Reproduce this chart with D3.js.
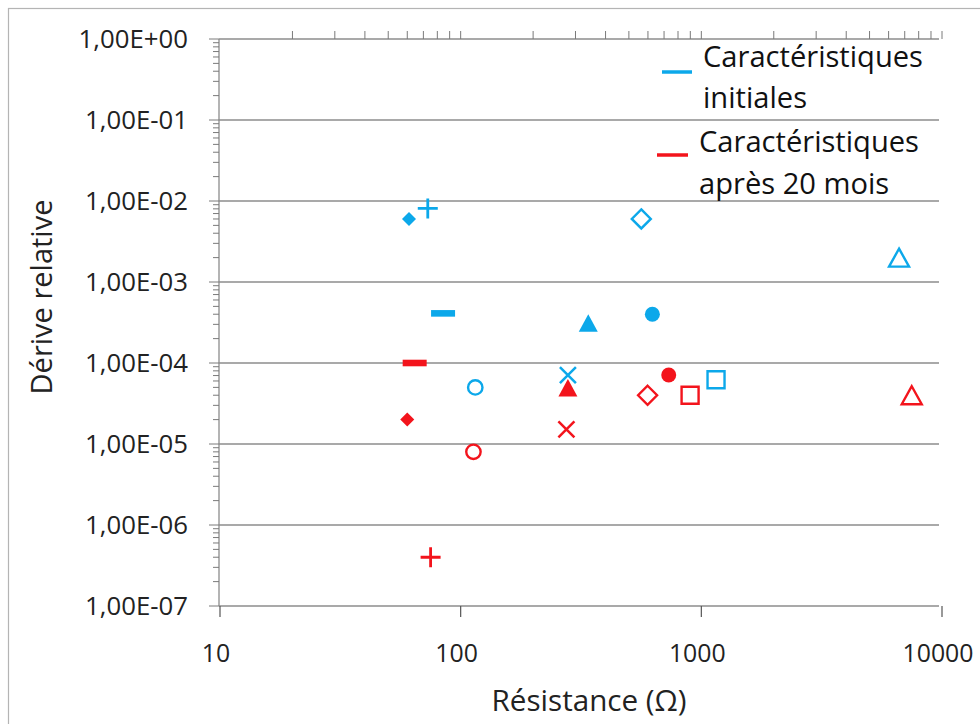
<!DOCTYPE html>
<html><head><meta charset="utf-8">
<script src="https://cdn.jsdelivr.net/npm/d3@7"></script>
<style>html,body{margin:0;padding:0;background:#fff;}svg{display:block;}</style>
</head><body>
<svg id="chart" width="980" height="724"></svg>
<script>
// ---- data ----
const markerTypes = ["diamondFilled","plus","diamondOpen","dash","triangleFilled","circleFilled","circleOpen","cross","squareOpen","triangleOpen"];
const initialResistance = [61, 73, 563, 84.5, 339, 626, 115, 279, 1151, 6630];
const initialDrift      = [6.0e-3, 8.1e-3, 6.0e-3, 4.1e-4, 3.1e-4, 4.0e-4, 5.0e-5, 7.1e-5, 6.2e-5, 2.0e-3];
const after20Resistance = [60, 75, 598, 64.4, 279, 732, 113, 275, 898, 7486];
const after20Drift      = [2.0e-5, 4.0e-7, 4.0e-5, 1.0e-4, 4.9e-5, 7.1e-5, 8.0e-6, 1.52e-5, 4.0e-5, 4.0e-5];
const seriesNames = [["Caractéristiques","initiales"],["Caractéristiques","après 20 mois"]];
const xTickValues = [10, 100, 1000, 10000];
const yTickValues = [1, 1e-1, 1e-2, 1e-3, 1e-4, 1e-5, 1e-6, 1e-7];
const yTickLabels = ["1,00E+00","1,00E-01","1,00E-02","1,00E-03","1,00E-04","1,00E-05","1,00E-06","1,00E-07"];
const xTitle = "Résistance (Ω)";
const yTitle = "Dérive relative";

// ---- layout ----
const BLUE = "#0ca8ea", RED = "#f3141c";
const FONT = "'Open Sans', sans-serif";
const svg = d3.select("#chart");
const L = 219, R = 942, T = 39, B = 606;
const x = d3.scaleLog().domain([10, 10000]).range([L + 1, R]);
const y = d3.scaleLog().domain([1e-7, 1]).range([B, T]);

// frame
svg.append("rect").attr("x", 8.5).attr("y", 8.5).attr("width", 1200).attr("height", 1200)
  .attr("fill", "none").attr("stroke", "#b4b4b4").attr("stroke-width", 1.2);

const gridColor = "#8c8c8c";
// horizontal gridlines
svg.append("g").selectAll("line").data(yTickValues).join("line")
  .attr("x1", L).attr("x2", 939).attr("y1", d => y(d)).attr("y2", d => y(d))
  .attr("stroke", gridColor).attr("stroke-width", 1.3);

// y axis line
svg.append("line").attr("x1", L).attr("x2", L).attr("y1", T).attr("y2", B)
  .attr("stroke", gridColor).attr("stroke-width", 1.3);

// y minor / major ticks (outward, left)
const yMinor = [];
for (let e = -7; e < 0; e++) for (let m = 2; m <= 9; m++) yMinor.push(m * Math.pow(10, e));
svg.append("g").selectAll("line").data(yMinor).join("line")
  .attr("x1", L - 6).attr("x2", L).attr("y1", d => y(d)).attr("y2", d => y(d))
  .attr("stroke", "#7a7a7a").attr("stroke-width", 1);
svg.append("g").selectAll("line").data(yTickValues).join("line")
  .attr("x1", L - 10).attr("x2", L).attr("y1", d => y(d)).attr("y2", d => y(d))
  .attr("stroke", "#7a7a7a").attr("stroke-width", 1);

// top axis minor ticks (upward)
const xMinor = [];
for (let e = 1; e < 4; e++) for (let m = 2; m <= 10; m++) xMinor.push(m * Math.pow(10, e));
svg.append("g").selectAll("line").data(xMinor).join("line")
  .attr("x1", d => x(d)).attr("x2", d => x(d)).attr("y1", T - 8).attr("y2", T)
  .attr("stroke", "#7a7a7a").attr("stroke-width", 1);

// bottom major ticks (downward)
svg.append("g").selectAll("line").data(xTickValues).join("line")
  .attr("x1", d => x(d)).attr("x2", d => x(d)).attr("y1", B).attr("y2", B + 11)
  .attr("stroke", "#555").attr("stroke-width", 1.2);

function fitSize(sel, target) {
  const w = sel.node().getComputedTextLength();
  const fs = parseFloat(sel.attr("font-size"));
  return fs * target / w;
}

// y tick labels
const yLab = svg.append("g").selectAll("text").data(yTickValues).join("text")
  .attr("x", 188).attr("y", d => y(d)).attr("dy", "0.36em")
  .attr("text-anchor", "end").attr("font-family", FONT).attr("font-size", 24)
  .attr("fill", "#222").text((d, i) => yTickLabels[i]);
const yfs = fitSize(d3.select(yLab.nodes()[2]), 103);
yLab.attr("font-size", yfs);

// x tick labels
const xLab = svg.append("g").selectAll("text").data(xTickValues).join("text")
  .attr("x", d => x(d) - 4).attr("y", 662)
  .attr("text-anchor", "middle").attr("font-family", FONT).attr("font-size", 24)
  .attr("fill", "#222").text(d => d3.format("d")(d));
const xfs = fitSize(d3.select(xLab.nodes()[3]), 71);
xLab.attr("font-size", xfs);

// axis titles
const xt = svg.append("text").attr("x", 589).attr("y", 711).attr("text-anchor", "middle")
  .attr("font-family", FONT).attr("font-size", 28).attr("fill", "#222").text(xTitle);
xt.attr("font-size", fitSize(xt, 195));
const yt = svg.append("text").attr("transform", "translate(52,297) rotate(-90)").attr("text-anchor", "middle")
  .attr("font-family", FONT).attr("font-size", 28).attr("fill", "#222").text(yTitle);
yt.attr("font-size", fitSize(yt, 195));

// legend
const legendColors = [BLUE, RED];
const legendLine = [[662, 692, 72], [657, 688, 155]];
const legendText = [[703, 67, 108], [699, 152, 194]];
let lfs = 28;
seriesNames.forEach((lines, i) => {
  svg.append("line").attr("x1", legendLine[i][0]).attr("x2", legendLine[i][1])
    .attr("y1", legendLine[i][2]).attr("y2", legendLine[i][2])
    .attr("stroke", legendColors[i]).attr("stroke-width", 3.5);
  lines.forEach((t, j) => {
    const tx = svg.append("text").attr("x", legendText[i][0]).attr("y", legendText[i][1 + j])
      .attr("font-family", FONT).attr("font-size", lfs).attr("fill", "#111").text(t);
    if (i === 0 && j === 0) { lfs = fitSize(tx, 220); }
    tx.attr("font-size", lfs);
  });
});

// marker shapes
function markerPath(type) {
  switch (type) {
    case "diamondFilled": return { d: "M0,-7L7,0L0,7L-7,0Z", fill: true };
    case "diamondOpen": return { d: "M0,-9.5L9.5,0L0,9.5L-9.5,0Z", fill: false };
    case "plus": return { d: "M-10,0H10M0,-10V10", fill: false, sw: 2.8 };
    case "cross": return { d: "M-8,-8L8,8M-8,8L8,-8", fill: false, sw: 2.5 };
    case "dash": return { d: "M-12,-3.3H12V3.3H-12Z", fill: true };
    case "triangleFilled": return { d: "M0,-9L9.5,8.5H-9.5Z", fill: true };
    case "triangleOpen": return { d: "M0,-9L10,9H-10Z", fill: false };
    case "circleFilled": return { circle: 7.5, fill: true };
    case "circleOpen": return { circle: 7.2, fill: false };
    case "squareOpen": return { d: "M-8.5,-8.5H8.5V8.5H-8.5Z", fill: false };
  }
}
function drawSeries(rs, ds, color) {
  const g = svg.append("g");
  markerTypes.forEach((t, i) => {
    const m = markerPath(t);
    const tr = `translate(${x(rs[i])},${y(ds[i])})`;
    let el;
    if (m.circle) el = g.append("circle").attr("r", m.circle).attr("transform", tr);
    else el = g.append("path").attr("d", m.d).attr("transform", tr);
    if (m.fill) el.attr("fill", color).attr("stroke", "none");
    else el.attr("fill", "none").attr("stroke", color).attr("stroke-width", m.sw || 2.4);
  });
}
drawSeries(initialResistance, initialDrift, BLUE);
drawSeries(after20Resistance, after20Drift, RED);
</script>
</body></html>
